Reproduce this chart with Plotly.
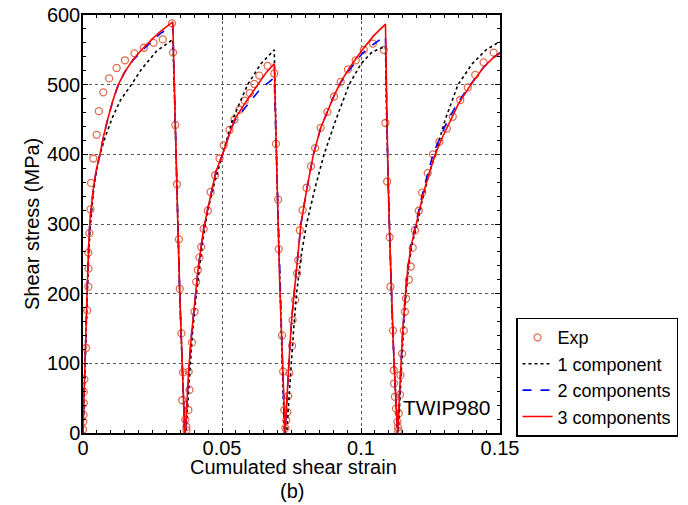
import plotly.graph_objects as go

# ---------------- data ----------------
exp_x = [0.0000, 0.0001, 0.0002, 0.0003, 0.0003, 0.0005, 0.0011, 0.0015, 0.0019, 0.0020, 0.0019,
         0.0023, 0.0027, 0.0029, 0.0037, 0.0049, 0.0057, 0.0073, 0.0094, 0.0121, 0.0151, 0.0185,
         0.0219, 0.0254, 0.0287, 0.0320,
         0.0324, 0.0332, 0.0338, 0.0345, 0.0348, 0.0354, 0.0360, 0.0357, 0.0368, 0.0372, 0.0372,
         0.0379, 0.0383, 0.0380, 0.0392, 0.0401, 0.0407, 0.0413, 0.0419, 0.0425, 0.0434, 0.0449,
         0.0459, 0.0475, 0.0491, 0.0506, 0.0527, 0.0545, 0.0563, 0.0582, 0.0600, 0.0616, 0.0634,
         0.0664, 0.0688,
         0.0694, 0.0702, 0.0704, 0.0716, 0.0720, 0.0724, 0.0728,
         0.0731, 0.0735, 0.0738, 0.0742, 0.0752, 0.0754, 0.0763, 0.0770, 0.0774, 0.0780, 0.0790,
         0.0804, 0.0820, 0.0835, 0.0855, 0.0879, 0.0903, 0.0927, 0.0953, 0.0981, 0.1010, 0.1043,
         0.1082,
         0.1088, 0.1094, 0.1103, 0.1106, 0.1115, 0.1118, 0.1119, 0.1122, 0.1126, 0.1131, 0.1133,
         0.1134,
         0.1136, 0.1140, 0.1142, 0.1148, 0.1154, 0.1158, 0.1162, 0.1172, 0.1179, 0.1186, 0.1194,
         0.1208, 0.1220, 0.1240, 0.1259, 0.1282, 0.1309, 0.1330, 0.1357, 0.1384, 0.1411, 0.1441,
         0.1477]
exp_y = [5, 16, 26, 43, 59, 77, 122, 176, 210, 236, 259,
         287, 321, 359, 394, 428, 462, 489, 509, 524, 535, 545,
         553, 560, 565, 588,
         546, 442, 357, 278, 207, 143, 87, 47, 19, 9, 4,
         33, 62, 88, 130, 174, 217, 234, 252, 267, 293, 319,
         346, 370, 394, 413, 435, 450, 464, 477, 488, 501, 513,
         527, 516,
         415, 335, 264, 140, 88, 33, 7,
         18, 30, 53, 86, 125, 162, 191, 229, 248, 291, 320,
         352, 383, 409, 438, 461, 483, 504, 522, 535, 550, 559,
         550,
         445, 361, 281, 210, 147, 90, 71, 52, 35, 16, 8,
         3,
         28, 55, 83, 114, 147, 174, 193, 220, 239, 266, 291,
         319, 345, 373, 400, 418, 437, 454, 478, 496, 514, 532,
         546]

one_x = [0.0000, 0.0005, 0.0010, 0.0015, 0.0020, 0.0025, 0.0037, 0.0048, 0.0061, 0.0080, 0.0105,
         0.0135, 0.0174, 0.0210, 0.0264, 0.0323,
         0.0328, 0.0334, 0.0341, 0.0348, 0.0355, 0.0360, 0.0366,
         0.0370, 0.0376, 0.0383, 0.0393, 0.0405, 0.0417, 0.0428, 0.0437, 0.0452, 0.0475, 0.0502,
         0.0538, 0.0592, 0.0640, 0.0688,
         0.0692, 0.0697, 0.0702, 0.0708, 0.0714, 0.0719, 0.0725,
         0.0733, 0.0740, 0.0748, 0.0757, 0.0768, 0.0785, 0.0804, 0.0835, 0.0867, 0.0910, 0.0957,
         0.1000, 0.1040, 0.1088,
         0.1092, 0.1097, 0.1103, 0.1109, 0.1116, 0.1123, 0.1131,
         0.1134, 0.1139, 0.1145, 0.1152, 0.1160, 0.1170, 0.1183, 0.1202, 0.1218, 0.1240, 0.1267,
         0.1303, 0.1349, 0.1400, 0.1450, 0.1500]
one_y = [0, 75, 135, 195, 250, 290, 345, 375, 400, 425, 452,
         478, 500, 522, 548, 565,
         500, 400, 300, 200, 120, 60, 0,
         0, 40, 90, 140, 190, 235, 268, 293, 325, 362, 400,
         450, 500, 530, 550,
         450, 380, 300, 210, 140, 70, 0,
         0, 45, 95, 145, 200, 255, 300, 352, 400, 450, 500,
         530, 547, 555,
         450, 370, 285, 200, 130, 65, 0,
         0, 45, 95, 145, 190, 235, 270, 300, 330, 365, 400,
         450, 500, 530, 550, 562]

two_x = [0.0000, 0.0005, 0.0010, 0.0015, 0.0020, 0.0025, 0.0037, 0.0048, 0.0061, 0.0075, 0.0090,
         0.0108, 0.0127, 0.0150, 0.0180, 0.0215, 0.0250, 0.0280, 0.0323,
         0.0328, 0.0334, 0.0341, 0.0348, 0.0355, 0.0360, 0.0366,
         0.0368, 0.0373, 0.0380, 0.0390, 0.0402, 0.0414, 0.0425, 0.0434, 0.0449, 0.0462, 0.0478,
         0.0502, 0.0527, 0.0545, 0.0587, 0.0634, 0.0658, 0.0688,
         0.0692, 0.0697, 0.0702, 0.0708, 0.0714, 0.0719, 0.0725,
         0.0727, 0.0732, 0.0738, 0.0745, 0.0752, 0.0760, 0.0771, 0.0784, 0.0805, 0.0829, 0.0855,
         0.0879, 0.0903, 0.0927, 0.0960, 0.1005, 0.1045, 0.1088,
         0.1092, 0.1097, 0.1103, 0.1109, 0.1116, 0.1123, 0.1131,
         0.1132, 0.1137, 0.1143, 0.1150, 0.1158, 0.1168, 0.1180, 0.1196, 0.1210, 0.1225, 0.1242,
         0.1259, 0.1282, 0.1310, 0.1345, 0.1393, 0.1441, 0.1477, 0.1500]
two_y = [0, 80, 140, 205, 265, 305, 350, 378, 400, 428, 452,
         478, 500, 518, 535, 550, 563, 574, 584,
         500, 400, 300, 200, 120, 60, 0,
         0, 40, 90, 140, 190, 235, 268, 293, 322, 348, 375,
         400, 430, 448, 468, 492, 500, 510,
         450, 380, 300, 210, 140, 70, 0,
         0, 40, 85, 130, 170, 205, 250, 300, 350, 400, 438,
         462, 484, 503, 522, 545, 558, 570,
         450, 370, 285, 200, 130, 65, 0,
         0, 45, 95, 145, 190, 235, 270, 300, 325, 350, 375,
         400, 422, 447, 472, 500, 525, 539, 546]

three_x = [0.0000, 0.0005, 0.0010, 0.0015, 0.0020, 0.0025, 0.0037, 0.0048, 0.0061, 0.0075, 0.0090,
           0.0108, 0.0127, 0.0150, 0.0180, 0.0215, 0.0250, 0.0280, 0.0323,
           0.0328, 0.0334, 0.0341, 0.0348, 0.0355, 0.0360, 0.0366,
           0.0368, 0.0373, 0.0380, 0.0390, 0.0402, 0.0414, 0.0425, 0.0434, 0.0449, 0.0462, 0.0478,
           0.0502, 0.0527, 0.0545, 0.0587, 0.0628, 0.0660, 0.0688,
           0.0692, 0.0697, 0.0702, 0.0708, 0.0714, 0.0719, 0.0725,
           0.0727, 0.0732, 0.0738, 0.0745, 0.0752, 0.0760, 0.0771, 0.0784, 0.0805, 0.0829, 0.0855,
           0.0879, 0.0903, 0.0927, 0.0960, 0.1005, 0.1045, 0.1088,
           0.1092, 0.1097, 0.1103, 0.1109, 0.1116, 0.1123, 0.1131,
           0.1132, 0.1137, 0.1143, 0.1150, 0.1158, 0.1168, 0.1180, 0.1198, 0.1212, 0.1225, 0.1245,
           0.1265, 0.1290, 0.1320, 0.1350, 0.1395, 0.1441, 0.1477, 0.1500]
three_y = [0, 80, 140, 205, 265, 305, 350, 378, 400, 428, 452,
           478, 500, 518, 536, 552, 566, 577, 590,
           500, 400, 300, 200, 120, 60, 0,
           0, 40, 90, 140, 190, 235, 268, 293, 322, 348, 375,
           400, 430, 450, 476, 500, 518, 530,
           450, 380, 300, 210, 140, 70, 0,
           0, 40, 85, 130, 170, 205, 250, 300, 350, 400, 438,
           462, 484, 504, 525, 550, 570, 587,
           450, 370, 285, 200, 130, 65, 0,
           0, 45, 95, 145, 190, 235, 268, 300, 322, 345, 372,
           398, 422, 448, 472, 500, 525, 539, 545]

x_ticks = [0, 0.05, 0.1, 0.15]
x_tick_labels = ["0", "0.05", "0.1", "0.15"]
y_ticks = [0, 100, 200, 300, 400, 500, 600]
y_tick_labels = ["0", "100", "200", "300", "400", "500", "600"]

# ---------------- figure ----------------
FONT = "Liberation Sans, Arial, sans-serif"

fig = go.Figure()
fig.add_trace(go.Scatter(
    x=exp_x, y=exp_y, mode="markers", name="Exp",
    marker=dict(symbol="circle-open", size=7, color="rgb(226,108,80)",
                line=dict(width=1.3, color="rgb(226,108,80)"))))
fig.add_trace(go.Scatter(
    x=one_x, y=one_y, mode="lines", name="1 component",
    line=dict(color="black", width=1.6, dash="dot")))
fig.add_trace(go.Scatter(
    x=two_x, y=two_y, mode="lines", name="2 components",
    line=dict(color="rgb(0,0,255)", width=1.6, dash="dash")))
fig.add_trace(go.Scatter(
    x=three_x, y=three_y, mode="lines", name="3 components",
    line=dict(color="rgb(255,0,0)", width=1.6)))

axis_common = dict(
    showline=True, linecolor="black", linewidth=1.5, mirror="allticks",
    ticks="inside", ticklen=5, tickcolor="black", tickwidth=1,
    showgrid=True, gridcolor="rgb(90,90,90)", gridwidth=1, griddash="dot",
    zeroline=False, automargin=False, ticklabeloverflow="allow",
    tickfont=dict(family=FONT, size=20, color="black"),
)

fig.update_xaxes(
    range=[0, 0.15], tickmode="array", tickvals=x_ticks, ticktext=x_tick_labels,
    ticklabelstandoff=-4,
    minor=dict(dtick=0.005, ticks="inside", ticklen=3, tickcolor="black", showgrid=False),
    **axis_common)
fig.update_yaxes(
    range=[0, 600], tickmode="array", tickvals=y_ticks, ticktext=y_tick_labels,
    ticklabelstandoff=-3,
    minor=dict(dtick=20, ticks="inside", ticklen=3, tickcolor="black", showgrid=False),
    **axis_common)

fig.update_layout(
    width=688, height=505,
    margin=dict(l=83, r=188, t=15, b=72, autoexpand=False),
    paper_bgcolor="white", plot_bgcolor="white",
    font=dict(family=FONT, size=18, color="black"),
    showlegend=True,
    legend=dict(
        x=1.4269, y=0.276, xanchor="right", yanchor="top",
        bordercolor="black", borderwidth=1.5, bgcolor="white",
        font=dict(family=FONT, size=18, color="black"),
        itemwidth=30, tracegroupgap=0,
    ),
    annotations=[
        dict(text="Shear stress (MPa)", xref="paper", yref="paper",
             x=-0.1223, y=0.5, xanchor="center", yanchor="middle",
             textangle=-90, showarrow=False,
             font=dict(family=FONT, size=20, color="black")),
        dict(text="Cumulated shear strain", xref="paper", yref="paper",
             x=0.505, y=-0.081, xanchor="center", yanchor="middle",
             showarrow=False, font=dict(family=FONT, size=20, color="black")),
        dict(text="(b)", xref="paper", yref="paper",
             x=0.50, y=-0.138, xanchor="center", yanchor="middle",
             showarrow=False, font=dict(family=FONT, size=20, color="black")),
        dict(text="TWIP980", xref="x", yref="y",
             x=0.1145, y=36, xanchor="left", yanchor="middle",
             showarrow=False, font=dict(family=FONT, size=21, color="black")),
    ],
)

# remove the browser's default 8 px page margin so the figure fills the window
fig.write_html(
    "out.html",
    config={"displayModeBar": False},
    post_script="document.body.style.margin='0px';document.body.style.overflow='hidden';",
)
